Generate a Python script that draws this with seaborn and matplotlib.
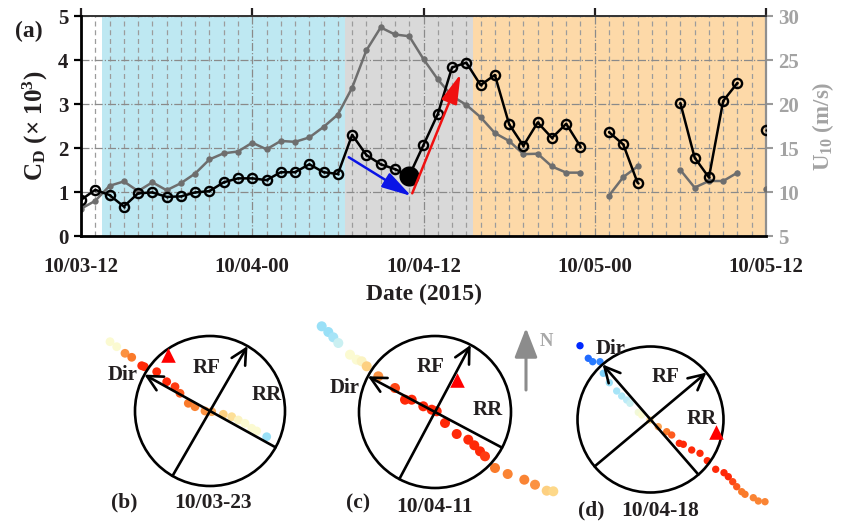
import numpy as np
import pandas as pd
import matplotlib
matplotlib.use("Agg")
import matplotlib.pyplot as plt
import seaborn as sns
from matplotlib.colors import LinearSegmentedColormap
from matplotlib.patches import Circle

nan = np.nan
# ---------------- data (main panel) ----------------
hours = list(range(-1, 49))          # hours after 10/03-12
tick_hours = [0, 12, 24, 36, 48]
tick_labels = ["10/03-12", "10/04-00", "10/04-12", "10/05-00", "10/05-12"]
cd_values = [0.60, 0.82, 1.05, 0.93, 0.67, 0.97, 0.99, 0.89, 0.90, 0.99, 1.02,
             1.22, 1.31, 1.31, 1.27, 1.45, 1.45, 1.63, 1.45, 1.41, 2.30,
             1.84, 1.63, 1.52, 1.37, 2.07, 2.77, 3.83, 3.94, 3.43, 3.66,
             2.54, 2.05, 2.58, 2.23, 2.55, 2.03, nan, 2.36, 2.08, 1.21,
             nan, nan, 3.02, 1.78, 1.33, 3.07, 3.48, nan, 2.42]
u10_values = [7.2, 8.1, 9.0, 10.7, 11.2, 10.1, 11.1, 10.2, 11.0, 12.1, 13.7,
              14.4, 14.6, 15.6, 14.85, 15.8, 15.7, 16.2, 17.4, 18.8, 21.85,
              26.1, 28.7, 27.9, 27.7, 25.1, 22.8, 20.9, 19.9, 18.5, 16.7,
              15.8, 14.3, 14.35, 12.9, 12.2, 12.2, nan, 9.6, 11.7, 12.9,
              nan, nan, 12.5, 10.5, 11.25, 11.25, 12.2, nan, 10.3]
highlight_hour = [23]
phase_edges = [1.5, 18.5, 27.5, 48.5]
blue_arrow = [(18.76, 1.79), (23.14, 0.91)]
red_arrow = [(23.21, 0.97), (26.6, 3.68)]

# ---------------- data (track insets, offsets from circle centre) ----------------
track_b_x = [-100, -93.3, -85, -78.3, -68.3, -65.7, -53.3, -43.3, -35, -30, -21.7,
             -15, -5, 1.7, 13.3, 21.7, 28.3, 35, 41.7, 46.7, 56.7]
track_b_y = [69.3, 64.3, 57.7, 53.7, 45.3, 44.3, 39.3, 29.3, 24.3, 17.7, 7.7,
             4.3, 0, -0.7, -3.3, -5.7, -9, -12.3, -17.3, -20, -25.7]
track_b_v = [0.5, 0.5, 0.75, 0.8, 0.95, 0.95, 0.95, 0.95, 0.9, 0.85, 0.8,
             0.78, 0.75, 0.7, 0.62, 0.58, 0.52, 0.5, 0.5, 0.5, 0.3]
track_c_x = [-113.3, -106.7, -101.7, -96.7, -85, -78.3, -73.3, -68.3, -56.7, -40,
             -30, -23.3, -11.7, -3.3, 1.7, 10, 21.7, 33.3, 39.3, 45, 50, 60, 72.7,
             89.3, 100, 111.7, 118.3]
track_c_y = [85.7, 80, 74.7, 69, 57.3, 52.3, 50.7, 45.7, 35.7, 24, 12.3, 12.3,
             5.7, 2.3, 0.7, -11, -22, -27.7, -33.3, -39.3, -44.3, -56, -62, -67.7,
             -72.7, -78.7, -79.3]
track_c_v = [0.3, 0.3, 0.32, 0.38, 0.5, 0.5, 0.52, 0.62, 0.75, 0.88, 0.95, 0.95,
             0.95, 0.95, 0.95, 0.95, 0.95, 0.95, 0.95, 0.95, 0.9, 0.8, 0.78, 0.78,
             0.75, 0.62, 0.6]
track_d_x = [-70.5, -62.2, -57.8, -50.5, -47.2, -41.2, -33.8, -28.8, -23.8, -20.5,
             -12.2, -8.8, -0.5, 7.8, 16.2, 21.2, 28.8, 32.8, 41.2, 49.5, 56.8, 65.2,
             73.5, 77.8, 82.2, 86.2, 91.2, 94.5, 102.8, 107.8, 114.5]
track_d_y = [73.8, 61.2, 57.8, 57.8, 46.2, 36.8, 28.5, 23.5, 19.5, 16.2, 7.2, 4.5,
             -0.5, -7.2, -12.2, -15.5, -23.8, -24.8, -30.5, -33.8, -41.2, -49.8,
             -53.2, -57.2, -62.2, -67.2, -72.2, -74.8, -78.2, -81.5, -82.2]
track_d_v = [0.0, 0.08, 0.1, 0.12, 0.25, 0.3, 0.32, 0.33, 0.35, 0.38, 0.48, 0.5,
             0.6, 0.72, 0.8, 0.85, 0.95, 0.95, 0.95, 0.95, 0.95, 0.95, 0.95, 0.95,
             0.88, 0.85, 0.8, 0.8, 0.78, 0.78, 0.78]
triangle_b = (-41.7, 56)
triangle_c = (21.7, 32.3)
triangle_d = (65.2, -12.2)
panel_letters = ["(b)", "(c)", "(d)"]
panel_dates = ["10/03-23", "10/04-11", "10/04-18"]
dir_angles = [151, 152, 131]
rf_angles = [60, 62, 40]

# ---------------- style ----------------
sns.set_style("white")
plt.rcParams["font.family"] = ["Liberation Serif", "DejaVu Serif"]
plt.rcParams["font.weight"] = "bold"
plt.rcParams["axes.labelweight"] = "bold"
plt.rcParams["mathtext.fontset"] = "custom"
plt.rcParams["mathtext.rm"] = "Liberation Serif:bold"
plt.rcParams["mathtext.bf"] = "Liberation Serif:bold"
plt.rcParams["mathtext.it"] = "Liberation Serif:bold:italic"

TXT = "#231f20"
GRAYTXT = "#a3a3a3"
W, H = 848, 522
fig = plt.figure(figsize=(W / 100, H / 100), dpi=100)


def px_rect(x0, y0, x1, y1):
    return [x0 / W, 1 - y1 / H, (x1 - x0) / W, (y1 - y0) / H]


# ---------------- main panel ----------------
axb = fig.add_axes(px_rect(81, 16, 766, 236))   # U10 axis (base, right)
ax = axb.twinx()                                 # CD axis (left, on top)
ax.yaxis.tick_left()
ax.yaxis.set_label_position("left")
axb.yaxis.tick_right()
axb.yaxis.set_label_position("right")

axb.set_xlim(0, 48)
axb.set_ylim(5, 30)
ax.set_ylim(0, 5)

shade_colors = ["#bee8f2", "#d9d9d9", "#fdd9a8"]
for i, c in enumerate(shade_colors):
    axb.axvspan(phase_edges[i], phase_edges[i + 1], color=c, lw=0, zorder=0.2)

axb.set_axisbelow(True)
axb.set_xticks(tick_hours, tick_labels)
axb.set_xticks(range(0, 49), minor=True)
axb.set_yticks([5, 10, 15, 20, 25, 30])
axb.grid(which="minor", axis="x", ls=(0, (4, 3)), color="#9c9c9c", lw=0.9)
axb.grid(which="major", axis="x", ls="-.", color="#8a8a8a", lw=0.9)
axb.grid(which="major", axis="y", ls="-.", color="#8a8a8a", lw=0.9)

axb.tick_params(axis="x", which="major", direction="out", length=6, width=1.6,
                top=True, labelsize=15, colors=TXT, pad=9)
axb.tick_params(axis="x", which="minor", length=0)
axb.tick_params(axis="y", direction="out", length=5, width=1.5,
                colors="#9a9a9a", labelsize=15, labelcolor=GRAYTXT, pad=4)
ax.set_yticks(range(6))
ax.tick_params(axis="y", direction="out", length=5, width=1.6,
               colors="black", labelsize=15, labelcolor=TXT, pad=4)

axb.spines["left"].set_visible(False)
axb.spines["bottom"].set_color("black")
axb.spines["bottom"].set_linewidth(2)
axb.spines["top"].set_color("#333333")
axb.spines["top"].set_linewidth(1.4)
axb.spines["right"].set_color("#8f8f8f")
axb.spines["right"].set_linewidth(1.6)
for s in ["right", "top", "bottom"]:
    ax.spines[s].set_visible(False)
ax.spines["left"].set_color("black")
ax.spines["left"].set_linewidth(2)

df = pd.DataFrame({"hour": hours, "cd": cd_values, "u10": u10_values})
df["seg_cd"] = df["cd"].isna().cumsum()
df["seg_u"] = df["u10"].isna().cumsum()
dcd = df.dropna(subset=["cd"])
du = df.dropna(subset=["u10"])

sns.lineplot(data=du, x="hour", y="u10", units="seg_u", estimator=None, ax=axb,
             color="#6e6e6e", lw=1.8, marker="o", markersize=4.6,
             markeredgewidth=0, markerfacecolor="#6e6e6e", zorder=3, sort=False)
sns.lineplot(data=dcd, x="hour", y="cd", units="seg_cd", estimator=None, ax=ax,
             color="black", lw=1.8, marker="o", markersize=6.6,
             markerfacecolor="none", markeredgecolor="black",
             markeredgewidth=1.7, zorder=4, sort=False)
sns.scatterplot(data=dcd, x="hour", y="cd", ax=ax, color="black", s=3,
                linewidth=0, zorder=5, legend=False)
hl = df[df["hour"].isin(highlight_hour)]
sns.scatterplot(data=hl, x="hour", y="cd", ax=ax, color="black", s=210,
                linewidth=0, zorder=6, legend=False)

ax.annotate("", xy=blue_arrow[1], xytext=blue_arrow[0],
            arrowprops=dict(arrowstyle="-|>,head_length=0.9,head_width=0.25",
                            color="#0a14e6", lw=1.8, mutation_scale=20,
                            shrinkA=0, shrinkB=0), zorder=7)
ax.annotate("", xy=red_arrow[1], xytext=red_arrow[0],
            arrowprops=dict(arrowstyle="-|>,head_length=0.9,head_width=0.25",
                            color="#f01010", lw=1.8, mutation_scale=20,
                            shrinkA=0, shrinkB=0), zorder=7)

ax.set_xlabel("")
axb.set_xlabel("Date (2015)", fontsize=17, color=TXT, labelpad=5,
               fontweight="bold")
ax.set_ylabel(r"C$_{\mathrm{D}}$ (× 10$^{\mathrm{3}}$)", fontsize=18, color=TXT,
              labelpad=6, fontweight="bold")
axb.set_ylabel(r"U$_{\mathrm{10}}$ (m/s)", fontsize=16.5, color=GRAYTXT,
               labelpad=8, fontweight="bold")
fig.text(15 / W, 1 - 31 / H, "(a)", fontsize=17, color=TXT, va="center",
         ha="left", fontweight="bold")

# ---------------- track insets ----------------
cmap = LinearSegmentedColormap.from_list(
    "track",
    [(0.0, "#0028ff"), (0.1, "#2a7dff"), (0.27, "#86d9f6"), (0.36, "#c2eef8"),
     (0.5, "#fbfbd2"), (0.6, "#fdd889"), (0.7, "#fcae5e"), (0.8, "#fa7a2a"),
     (0.9, "#ff3c12"), (1.0, "#ff1800")])

insets = [
    dict(c=(210, 411), box=(95, 325, 300, 500), r=75, tx=track_b_x, ty=track_b_y,
         tv=track_b_v, tri=triangle_b, s=40,
         dirpos=(-87, 36), rfpos=(-3, 43), rrpos=(57, 16),
         letpos=(-86, -91), datepos=(3, -92)),
    dict(c=(435, 412), box=(310, 318, 575, 505), r=76, tx=track_c_x, ty=track_c_y,
         tv=track_c_v, tri=triangle_c, s=52,
         dirpos=(-90, 24), rfpos=(-4, 45), rrpos=(53, 2),
         letpos=(-77, -91), datepos=(0, -95)),
    dict(c=(650.5, 419.5), box=(565, 335, 780, 512), r=73, tx=track_d_x, ty=track_d_y,
         tv=track_d_v, tri=triangle_d, s=28,
         dirpos=(-40, 71), rfpos=(15, 43), rrpos=(51, 0),
         letpos=(-59, -91), datepos=(10, -92)),
]

for k, p in enumerate(insets):
    cx, cy = p["c"]
    x0, y0, x1, y1 = p["box"]
    ai = fig.add_axes(px_rect(x0, y0, x1, y1))
    ai.set_xlim(x0 - cx, x1 - cx)
    ai.set_ylim(cy - y1, cy - y0)
    ai.set_axis_off()
    sns.scatterplot(x=p["tx"], y=p["ty"], hue=p["tv"], palette=cmap,
                    hue_norm=(0, 1), s=p["s"], linewidth=0, legend=False,
                    ax=ai, zorder=1, clip_on=False)
    r = p["r"]
    ai.add_patch(Circle((0, 0), r, fill=False, ec="black", lw=1.9, zorder=2,
                        clip_on=False))
    for ang in (dir_angles[k], rf_angles[k]):
        a = np.deg2rad(ang)
        tip = (r * np.cos(a), r * np.sin(a))
        tail = (-r * np.cos(a), -r * np.sin(a))
        ai.annotate("", xy=tip, xytext=tail, annotation_clip=False,
                    arrowprops=dict(arrowstyle="->,head_length=0.55,head_width=0.28",
                                    color="black", lw=1.9, mutation_scale=20,
                                    shrinkA=0, shrinkB=0), zorder=3)
    ai.scatter([p["tri"][0]], [p["tri"][1]], marker="^", s=110, color="#ff0000",
               linewidths=0, zorder=4, clip_on=False)
    ai.text(*p["dirpos"], "Dir", fontsize=15, color=TXT, ha="center", va="center")
    ai.text(*p["rfpos"], "RF", fontsize=15, color=TXT, ha="center", va="center")
    ai.text(*p["rrpos"], "RR", fontsize=15, color=TXT, ha="center", va="center")
    ai.text(*p["letpos"], panel_letters[k], fontsize=15.5, color=TXT,
            ha="center", va="center")
    ai.text(*p["datepos"], panel_dates[k], fontsize=15.5, color=TXT,
            ha="center", va="center")
    if k == 1:
        ai.annotate("", xy=(91, 84), xytext=(91, 22), annotation_clip=False,
                    arrowprops=dict(arrowstyle="-|>,head_length=0.9,head_width=0.35",
                                    color="#8c8c8c", lw=2.2, mutation_scale=20,
                                    shrinkA=0, shrinkB=0))
        ai.text(111, 70, "N", fontsize=13.5, color="#a8a8a8", ha="center",
                va="center")

fig.savefig("out.png", dpi=100)
